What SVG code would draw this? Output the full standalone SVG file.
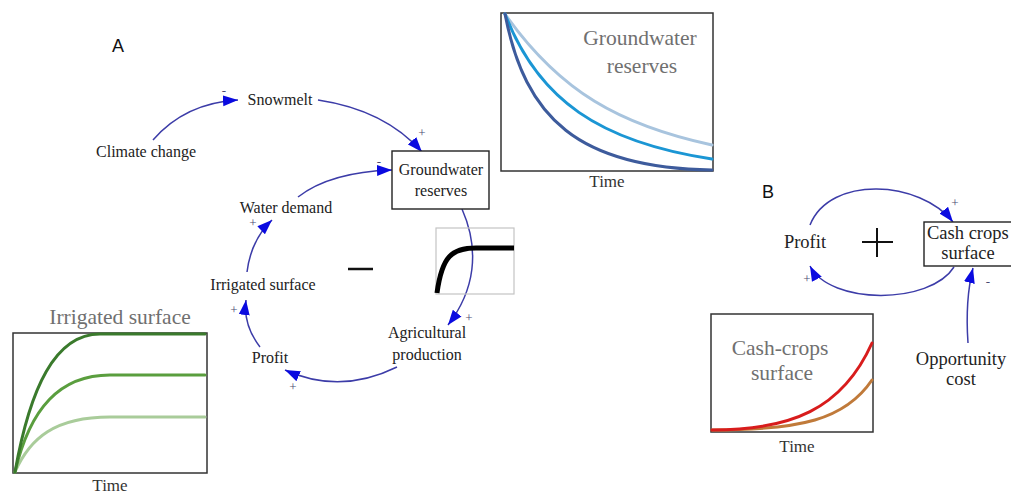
<svg xmlns="http://www.w3.org/2000/svg" width="1011" height="494" viewBox="0 0 1011 494">
<style>
.lbl{font-family:"Liberation Serif","Times New Roman",serif;font-size:16px;fill:#222;}
.lblb{font-family:"Liberation Serif","Times New Roman",serif;font-size:18.5px;fill:#222;}
.ttl{font-family:"Liberation Serif","Times New Roman",serif;font-size:21.5px;fill:#707070;}
.time{font-family:"Liberation Serif","Times New Roman",serif;font-size:17px;fill:#333;}
.pol{font-family:"Liberation Serif","Times New Roman",serif;font-size:13px;fill:#4a4a70;}
.pan{font-family:"Liberation Sans",Arial,sans-serif;font-size:18px;fill:#111;}
.arr{fill:none;stroke:#3c3ca8;stroke-width:1.5;marker-end:url(#ah);}
.frame{fill:#fff;stroke:#333;stroke-width:1.5;}
.node{fill:#fff;stroke:#222;stroke-width:1.4;}
.crv{fill:none;stroke-width:3;stroke-linecap:round;}
</style>
<defs>
<marker id="ah" markerUnits="userSpaceOnUse" markerWidth="17" markerHeight="12" refX="15" refY="6" orient="auto">
<path d="M0,0.5 L15,6 L0,11.5 Z" fill="#0a0ae0"/>
</marker>
</defs>
<rect width="1011" height="494" fill="#fff"/>
<text class="pan" x="112" y="52">A</text>
<text class="pan" x="762" y="198">B</text>

<g id="connectors">
<path class="arr" d="M153,140 Q185,103 238,100"/>
<path class="arr" d="M318,100 Q385,110 422,152"/>
<path class="arr" d="M298,197 Q330,172 392,170"/>
<path class="arr" d="M247,272 Q251,240 272,220"/>
<path class="arr" d="M260,347 Q243,325 246,300"/>
<path class="arr" d="M397,367 Q340,395 285,370"/>
<path class="arr" d="M462,209 C480,250 475,290 448,325"/>
<path class="arr" d="M810,225 C830,175 920,180 953,222"/>
<path class="arr" d="M954,267 C930,305 830,305 810,266"/>
<path class="arr" d="M968,343 Q965,300 973,268"/>
</g>

<g id="polarities">
<text class="pol" x="224" y="95" text-anchor="middle">-</text>
<text class="pol" x="422" y="137" text-anchor="middle">+</text>
<text class="pol" x="379" y="166" text-anchor="middle">-</text>
<text class="pol" x="253" y="227" text-anchor="middle">+</text>
<text class="pol" x="234" y="314" text-anchor="middle">+</text>
<text class="pol" x="293" y="391" text-anchor="middle">+</text>
<text class="pol" x="469" y="322" text-anchor="middle">+</text>
<text class="pol" x="955" y="207" text-anchor="middle">+</text>
<text class="pol" x="807" y="283" text-anchor="middle">+</text>
<text class="pol" x="988" y="286" text-anchor="middle">-</text>
</g>

<g id="loop-signs">
<line x1="348" y1="269" x2="373" y2="269" stroke="#111" stroke-width="2.5"/>
<line x1="862" y1="242" x2="893" y2="242" stroke="#111" stroke-width="2"/>
<line x1="877" y1="228" x2="877" y2="257" stroke="#111" stroke-width="2"/>
</g>

<g id="climate-change"><text class="lbl" x="146" y="157" text-anchor="middle">Climate change</text></g>
<g id="snowmelt"><text class="lbl" x="280" y="105" text-anchor="middle">Snowmelt</text></g>
<g id="groundwater-reserves">
<rect class="node" x="392" y="151" width="97" height="58"/>
<text class="lbl" x="441" y="175" text-anchor="middle">Groundwater</text>
<text class="lbl" x="441" y="196" text-anchor="middle">reserves</text>
</g>
<g id="water-demand"><text class="lbl" x="286" y="213" text-anchor="middle">Water demand</text></g>
<g id="irrigated-surface"><text class="lbl" x="263" y="290" text-anchor="middle">Irrigated surface</text></g>
<g id="profit-a"><text class="lbl" x="270" y="363" text-anchor="middle">Profit</text></g>
<g id="agricultural-production">
<text class="lbl" x="427" y="338" text-anchor="middle">Agricultural</text>
<text class="lbl" x="427" y="360" text-anchor="middle">production</text>
</g>

<g id="saturation-chart">
<rect x="436" y="228" width="78" height="66" fill="none" stroke="#c4c4c4" stroke-width="1.2"/>
<path d="M437,293 C442,256 452,248 476,248 L514,248" fill="none" stroke="#000" stroke-width="5"/>
</g>

<g id="groundwater-chart">
<rect class="frame" x="501" y="13" width="212" height="158"/>
<path class="crv" stroke="#a8c4de" d="M505,14 C560,92 620,125 712,145"/>
<path class="crv" stroke="#1b96d4" d="M505,14 C538,100 600,142 712,159"/>
<path class="crv" stroke="#3d5b9c" d="M505,14 C525,118 578,168 712,170"/>
<text class="ttl" x="640" y="45" text-anchor="middle">Groundwater</text>
<text class="ttl" x="642" y="73" text-anchor="middle">reserves</text>
<text class="time" x="607" y="187" text-anchor="middle">Time</text>
</g>

<g id="irrigated-chart">
<rect class="frame" x="13" y="333" width="194" height="140"/>
<path class="crv" stroke="#a9cc9a" d="M15,472 C30,438 55,417 110,417 L205,417"/>
<path class="crv" stroke="#5a9e3e" d="M15,472 C30,408 60,375 110,375 L205,375"/>
<path class="crv" stroke="#3a7a2c" d="M15,472 C30,388 55,334 100,334 L205,334"/>
<text class="ttl" x="120" y="324" text-anchor="middle">Irrigated surface</text>
<text class="time" x="110" y="491" text-anchor="middle">Time</text>
</g>

<g id="profit-b"><text class="lblb" x="805" y="248" text-anchor="middle">Profit</text></g>
<g id="cash-crops-surface">
<rect class="node" x="924" y="222" width="90" height="44"/>
<text class="lblb" x="927" y="239">Cash crops</text>
<text class="lblb" x="968" y="259" text-anchor="middle">surface</text>
</g>
<g id="opportunity-cost">
<text class="lblb" x="961" y="365" text-anchor="middle">Opportunity</text>
<text class="lblb" x="961" y="385" text-anchor="middle">cost</text>
</g>

<g id="cash-crops-chart">
<rect class="frame" x="711" y="314" width="162" height="118"/>
<path class="crv" stroke="#c07a3a" d="M712,430 C800,430 845,420 872,380"/>
<path class="crv" stroke="#d81c1c" d="M712,430 C790,430 842,410 872,343"/>
<text class="ttl" x="780" y="355" text-anchor="middle">Cash-crops</text>
<text class="ttl" x="782" y="380" text-anchor="middle">surface</text>
<text class="time" x="797" y="452" text-anchor="middle">Time</text>
</g>
</svg>
